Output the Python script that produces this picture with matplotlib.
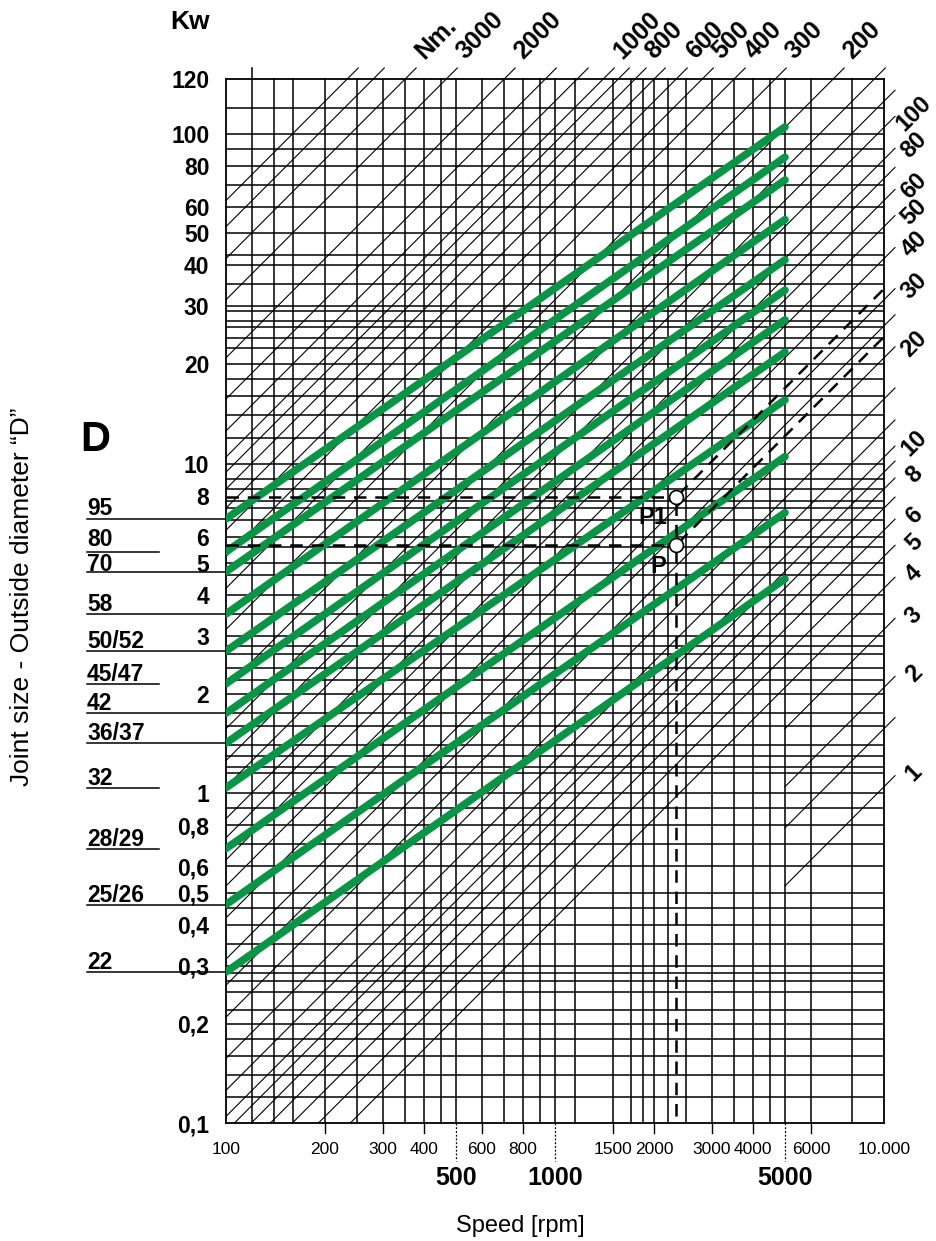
import numpy as np
import matplotlib.pyplot as plt

# ---- values ----
speed_min, speed_max = 100, 10000
kw_min, kw_max = 0.1, 146.8          # top border carries the "120" label

# green joint-size lines: power at 100 rpm and at 5000 rpm
joint_sizes = ["95", "80", "70", "58", "50/52", "45/47", "42", "36/37",
               "32", "28/29", "25/26", "22"]
kw_at_100 = [6.8, 5.4, 4.7, 3.5, 2.7, 2.15, 1.75, 1.42, 1.04, 0.68, 0.46, 0.287]
kw_at_5000 = [105, 85, 72.5, 55, 41.5, 33.6, 27.3, 21.8, 15.6, 10.5, 7.1, 4.47]
long_underline = [True, False, True, True, True, False, True, True,
                  False, False, True, True]

# constant torque lines (Nm), P = T * n / 9549
torques = [6000, 5000, 4000, 3000, 2000, 1500, 1200, 1000, 900, 800, 700, 600,
           500, 400, 300, 200, 150, 120, 100, 80, 70, 60, 50, 40, 30, 25, 20,
           15, 12, 10, 9, 8, 7, 6, 5, 4, 3, 2, 1.5, 1]
top_torque_labels = {4000: "Nm.", 3000: "3000", 2000: "2000", 1000: "1000",
                     800: "800", 600: "600", 500: "500", 400: "400",
                     300: "300", 200: "200"}
right_torque_labels = [100, 80, 60, 50, 40, 30, 20, 10, 8, 6, 5, 4, 3, 2, 1]

# grid
speed_grid = [120, 140, 160, 200, 250, 300, 350, 400, 450, 500, 600, 700, 800,
              900, 1000, 1150, 1500, 1700, 1850, 2000, 2200, 2500, 3000, 3500,
              4000, 4500, 5000, 6000, 8000]
kw_grid = [0.12, 0.14, 0.16, 0.18, 0.2, 0.22, 0.25, 0.27, 0.285, 0.3, 0.35,
           0.4, 0.45, 0.5, 0.6, 0.7, 0.8, 0.9, 1, 1.15, 1.2, 1.3, 1.4, 1.6,
           1.75, 2, 2.2, 2.4, 2.65, 2.8, 3, 3.5, 4, 4.6, 5, 5.6, 6, 6.75, 7.35,
           7.7, 8.4, 9, 10, 12, 14, 16, 18, 20, 22.5, 24, 26, 27, 29, 30, 35,
           40, 43, 50, 60, 70, 80, 90, 100, 120]

# axis labels
kw_ticks = [kw_max, 100, 80, 60, 50, 40, 30, 20, 10, 8, 6, 5, 4, 3, 2, 1,
            0.8, 0.6, 0.5, 0.4, 0.3, 0.2, 0.1]
kw_tick_labels = ["120", "100", "80", "60", "50", "40", "30", "20", "10", "8",
                  "6", "5", "4", "3", "2", "1", "0,8", "0,6", "0,5", "0,4",
                  "0,3", "0,2", "0,1"]
speed_ticks = [100, 200, 300, 400, 600, 800, 1500, 2000, 3000, 4000, 6000, 10000]
speed_tick_labels = ["100", "200", "300", "400", "600", "800", "1500", "2000",
                     "3000", "4000", "6000", "10.000"]
speed_major = [500, 1000, 5000]

# worked example
n_op = 2330
kw_p1 = 7.9
kw_p = 5.65

GREEN = "#0a9446"
W, H = 936, 1241
BOLD = dict(fontweight="bold", family="Liberation Sans")
label_gap = {"95": 4, "80": 6, "70": 1}   # px between underline and text

fig = plt.figure(figsize=(W / 100, H / 100), dpi=100)
ax = fig.add_axes([226 / W, (H - 1123) / H, 658 / W, 1044 / H])
ax.set_xscale("log")
ax.set_yscale("log")
ax.set_xlim(speed_min, speed_max)
ax.set_ylim(kw_min, kw_max)
ax.minorticks_off()
for s in ax.spines.values():
    s.set_linewidth(1.3)

# grid
for v in speed_grid:
    top = kw_max * 1.08 if v == 120 else kw_max
    ax.plot([v, v], [kw_min, top], color="black", lw=1.1, clip_on=False, zorder=1)
for v in kw_grid:
    ax.plot([speed_min, speed_max], [v, v], color="black", lw=1.1, zorder=1)

# torque diagonals
ext = 1.08
for T in torques:
    k = T / 9549.0
    n_lo = max(speed_min, kw_min / k)
    n_hi = min(speed_max, kw_max / k)
    if T < 4:
        n_lo = max(n_lo, 5000)
    if n_lo >= n_hi:
        continue
    ax.plot([n_lo, n_hi * ext], [k * n_lo, k * n_hi * ext], color="black",
            lw=0.8, clip_on=False, zorder=1)
    if T in top_torque_labels:
        ax.annotate(top_torque_labels[T], xy=(n_hi, kw_max), xytext=(14, 24),
                    textcoords="offset pixels", rotation=45,
                    rotation_mode="anchor", ha="left", va="center",
                    fontsize=18, annotation_clip=False, **BOLD)
    if T in right_torque_labels:
        ax.annotate(str(T), xy=(speed_max, k * speed_max), xytext=(30, 14),
                    textcoords="offset pixels", rotation=45,
                    rotation_mode="anchor", ha="center", va="center",
                    fontsize=17, annotation_clip=False, **BOLD)

# green joint-size lines
for a, b in zip(kw_at_100, kw_at_5000):
    ax.plot([100, 5000], [a, b], color=GREEN, lw=5.5, solid_capstyle="round",
            zorder=3)

# worked example: dashed construction lines
dash = dict(color="black", lw=1.8, dashes=(5, 3.5), zorder=4)
ax.plot([speed_min, n_op * 0.985], [kw_p1, kw_p1], **dash)
ax.plot([speed_min, n_op * 0.985], [kw_p, kw_p], **dash)
ax.plot([n_op, n_op], [kw_p1 * 0.96, kw_p * 1.04], **dash)
ax.plot([n_op, n_op], [kw_p * 0.96, kw_min], **dash)
ax.plot([n_op * 1.02, speed_max], [kw_p1 * 1.02, kw_p1 * speed_max / n_op], **dash)
ax.plot([n_op * 1.02, speed_max], [kw_p * 1.02, kw_p * speed_max / n_op], **dash)
ax.plot([n_op, n_op], [kw_p1, kw_p], "o", ms=10, mfc="white", mec="black",
        mew=1.2, zorder=5)
ax.annotate("P1", xy=(n_op, kw_p1), xytext=(-23, -20), textcoords="offset pixels",
            ha="center", va="center", fontsize=17, zorder=6, **BOLD)
ax.annotate("P", xy=(n_op, kw_p), xytext=(-18, -21), textcoords="offset pixels",
            ha="center", va="center", fontsize=17, zorder=6, **BOLD)

# y tick labels
ax.set_yticks(kw_ticks)
ax.set_yticklabels(kw_tick_labels, fontsize=16.5, **BOLD)
ax.tick_params(axis="y", length=0, pad=12)
ax.set_xticks([])

# x tick labels (two rows)
xt = ax.get_xaxis_transform()
for v, lab in zip(speed_ticks, speed_tick_labels):
    ax.text(v, -27 / 1044, lab, transform=xt, ha="center", va="center",
            fontsize=12.5, family="Liberation Sans")
    if v not in (100, 10000):
        ax.plot([v, v], [0, -10 / 1044], transform=xt, color="black", lw=1.0,
                clip_on=False)
for v in speed_major:
    ax.plot([v, v], [0, -38 / 1044], transform=xt, color="black", lw=0.9,
            ls=(0, (1.5, 1.5)), clip_on=False)
    ax.text(v, -55 / 1044, str(v), transform=xt, ha="center", va="center",
            fontsize=18, **BOLD)

# joint size labels with underlines
yt = ax.get_yaxis_transform()
for size, kw, long_ in zip(joint_sizes, kw_at_100, long_underline):
    x0 = (87 - 226) / 658
    x1 = 0 if long_ else (159 - 226) / 658
    ax.plot([x0, x1], [kw, kw], transform=yt, color="black", lw=1.1,
            clip_on=False)
    ax.annotate(size, xy=(x0, kw), xycoords=yt,
                xytext=(0, label_gap.get(size, 3)),
                textcoords="offset pixels", ha="left", va="baseline",
                fontsize=16.5, **BOLD)

# titles
fig.text(170 / W, 1 - 22 / H, "Kw", fontsize=19, ha="left", va="center", **BOLD)
fig.text(80 / W, 1 - 440 / H, "D", fontsize=30, ha="left", va="center", **BOLD)
fig.text(22 / W, 1 - 597 / H, "Joint size - Outside diameter \u201cD\u201d",
         rotation=90, fontsize=19, family="Liberation Sans", ha="center",
         va="center")
fig.text(520 / W, 1 - 1226 / H, "Speed [rpm]", fontsize=17,
         family="Liberation Sans", ha="center", va="center")

fig.savefig("out.png", dpi=100)
